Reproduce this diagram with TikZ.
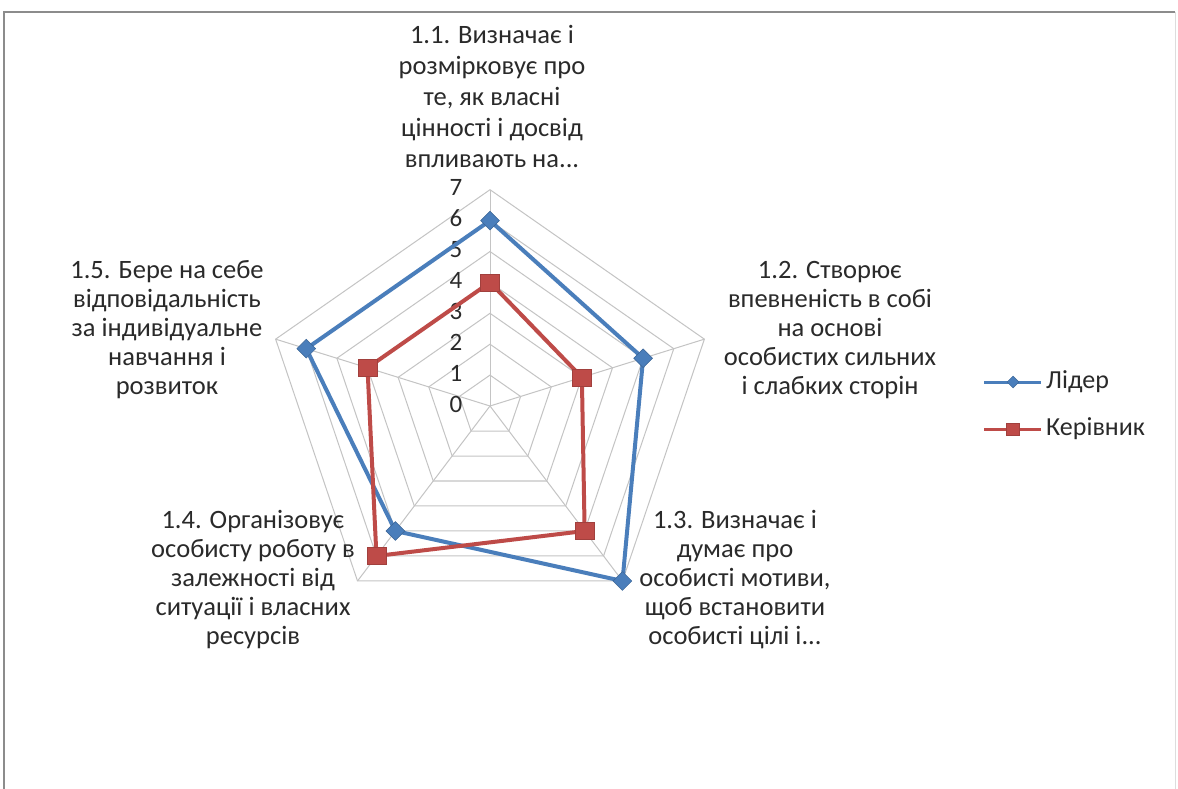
\documentclass[tikz,border=0pt]{standalone}
\usepackage{fontspec}
\setmainfont{Carlito}
\usetikzlibrary{shapes.geometric}
\definecolor{ldblue}{HTML}{4A7EBB}
\definecolor{kvred}{HTML}{BE4B48}
\definecolor{gridgray}{HTML}{C4C4C4}
\definecolor{framegray}{HTML}{8C8C8C}
\definecolor{txt}{HTML}{2A2A2A}
\newcommand{\cx}{490}
\newcommand{\cy}{406}
\newcommand{\ux}{32.2}
\newcommand{\uy}{30.9}
\tikzset{
  gridline/.style={gridgray, line width=1pt},
  lidline/.style={ldblue, line width=4pt, line join=round},
  kerline/.style={kvred, line width=4pt, line join=round},
  lidmark/.style={diamond, fill=ldblue, draw=ldblue!80!black, line width=0.5pt, minimum width=19pt, minimum height=19pt, inner sep=0pt},
  kermark/.style={rectangle, fill=kvred, draw=kvred!85!black, line width=0.5pt, minimum width=19pt, minimum height=17pt, inner sep=0pt},
  lidleg/.style={lidmark, minimum width=12pt, minimum height=12pt},
  kerleg/.style={kermark, minimum width=13pt, minimum height=12pt},
  cat/.style={align=center, text=txt, font=\fontsize{26.5}{29}\selectfont, inner sep=0pt},
  tick/.style={text=txt, font=\fontsize{25}{26}\selectfont, inner sep=0pt},
  leg/.style={anchor=west, text=txt, font=\fontsize{26}{28}\selectfont, inner sep=0pt}
}
\begin{document}
\begin{tikzpicture}[x=1pt,y=-1pt]
\useasboundingbox (0,0) rectangle (1178,789);
\fill[white] (0,0) rectangle (1178,789);
% frame
\draw[framegray, line width=2pt] (4,789) -- (4,12) -- (1175,12);
\draw[framegray!30, line width=1pt] (1175,12) -- (1175,789);
% grid
\coordinate (c) at (\cx,\cy);
\foreach \r in {1,...,7}{
  \draw[gridline] ({\cx+\ux*\r*cos(90)},{\cy-\uy*\r*sin(90)})
    -- ({\cx+\ux*\r*cos(18)},{\cy-\uy*\r*sin(18)})
    -- ({\cx+\ux*\r*cos(-54)},{\cy-\uy*\r*sin(-54)})
    -- ({\cx+\ux*\r*cos(-126)},{\cy-\uy*\r*sin(-126)})
    -- ({\cx+\ux*\r*cos(162)},{\cy-\uy*\r*sin(162)}) -- cycle;
}
\foreach \a [count=\k] in {90,18,-54,-126,162}{
  \coordinate (s\k) at ({\cx+\ux*7*cos(\a)},{\cy-\uy*7*sin(\a)});
  \draw[gridline] (c) -- (s\k);
}
% tick labels
\foreach \i in {0,...,7}{
  \node[tick] (t\i) at (456,{404-\uy*\i}) {\i};
}
% data points
\foreach \a/\v [count=\k] in {90/6,18/5,-54/7,-126/5,162/6}{
  \coordinate (L\k) at ({\cx+\ux*\v*cos(\a)},{\cy-\uy*\v*sin(\a)});
}
\foreach \a/\v [count=\k] in {90/4,18/3,-54/5,-126/6,162/4}{
  \coordinate (K\k) at ({\cx+\ux*\v*cos(\a)},{\cy-\uy*\v*sin(\a)});
}
\draw[lidline] (L1) -- (L2) -- (L3) -- (L4) -- (L5) -- cycle;
\draw[kerline] (K1) -- (K2) -- (K3) -- (K4) -- (K5) -- cycle;
\foreach \k in {1,...,5}{
  \node[lidmark] (mL\k) at (L\k) {};
  \node[kermark] (mK\k) at (K\k) {};
}
% category labels
\node[cat, font=\fontsize{26.5}{31}\selectfont] (c1) at (492,96) {1.1. Визначає і\\розмірковує про\\те, як власні\\цінності і досвід\\впливають на...};
\node[cat] (c2) at (830,330) {1.2. Створює\\впевненість в собі\\на основі\\особистих сильних\\і слабких сторін};
\node[cat] (c3) at (735,580) {1.3. Визначає і\\думає про\\особисті мотиви,\\щоб встановити\\особисті цілі і...};
\node[cat] (c4) at (253,580) {1.4. Організовує\\особисту роботу в\\залежності від\\ситуації і власних\\ресурсів};
\node[cat] (c5) at (167,330) {1.5. Бере на себе\\відповідальність\\за індивідуальне\\навчання і\\розвиток};
% legend
\coordinate (la) at (984,382);
\coordinate (lb) at (1041,382);
\draw[lidline, line width=3pt] (la) -- (lb);
\node[lidleg] (lm) at (1013,382) {};
\node[leg] (lt) at (1046,382) {Лідер};
\coordinate (ka) at (984,429);
\coordinate (kb) at (1041,429);
\draw[kerline, line width=3pt] (ka) -- (kb);
\node[kerleg] (km) at (1013,429) {};
\node[leg] (kt) at (1046,429) {Керівник};
\end{tikzpicture}
\end{document}
